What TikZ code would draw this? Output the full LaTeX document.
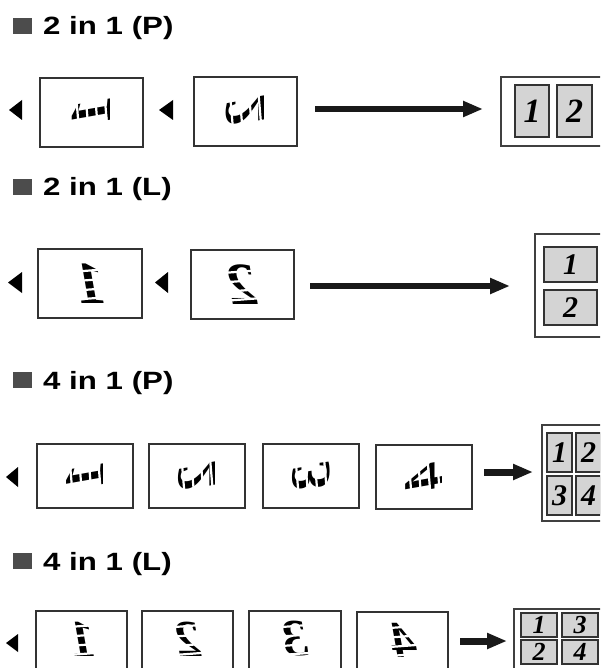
\documentclass[tikz,border=0pt]{standalone}
\usepackage{fontspec}
\setmainfont{Liberation Sans}
\newfontfamily\serifnum{Liberation Serif}
\usetikzlibrary{arrows.meta,calc}

\tikzset{
  page/.style={draw=black!80, line width=1.3pt, inner sep=0pt, fill=white},
  outframe/.style={draw=black!75, line width=1.2pt, inner sep=0pt, fill=white},
  cell/.style={draw=black!80, line width=1.3pt, fill=black!17, inner sep=0pt},
  celltext/.style={font=\serifnum\bfseries\itshape\fontsize{#1}{#1}\selectfont},
  glyph/.style={inner sep=0pt, font=\serifnum\bfseries\itshape\fontsize{#1}{#1}\selectfont},
  stripe/.style={draw=white, line width=2.2pt},
  bigarrow/.style={draw=black!90, line width=#1, -{Triangle[length=20pt,width=15pt]}},
  marker/.style={fill=black},
  bullet/.style={fill=black!70},
  heading/.style={anchor=base west, inner sep=0pt, font=\bfseries\fontsize{25}{25}\selectfont}
}
\newcommand\vstripes[1]{\foreach \d in {-14,-4.5,5,14.5} {\draw[stripe] ($(#1)+(\d-1.5,-18)$) -- ($(#1)+(\d+1.5,18)$);}}
\newcommand\hstripes[1]{\foreach \d in {-13,-3.5,6,15} {\draw[stripe] ($(#1)+(-20,\d+1.5)$) -- ($(#1)+(20,\d-1.5)$);}}
\newcommand\mirr[1]{\scalebox{-1}[1]{#1}}

\begin{document}
\begin{tikzpicture}[x=1pt,y=-1pt]
\useasboundingbox (0,0) rectangle (600,668);
\clip (0,0) rectangle (600,668);

% ---------- Row 1 : 2 in 1 (P)
\fill[bullet] (13,18) rectangle (32,34);
\node[heading] (h1) at (43,35) {\scalebox{1.25}[1]{2 in 1 (P)}};
\fill[marker] (9,110) -- (22,100) -- (22,120) -- cycle;
\fill[marker] (159,110) -- (173,100) -- (173,120) -- cycle;
\node[page, minimum width=103pt, minimum height=69pt] (p1a) at (91.5,112.5) {};
\node[page, minimum width=103pt, minimum height=69pt] (p1b) at (245.5,111.5) {};
\node[glyph=58, rotate=90] (g1a) at (p1a) {\mirr{1}};
\node[glyph=58, rotate=90] (g1b) at (p1b) {\mirr{2}};
\vstripes{g1a}
\vstripes{g1b}
\coordinate (a1s) at (315,109);
\coordinate (a1e) at (483,109);
\draw[bigarrow=6pt] (a1s) -- (a1e);
\node[outframe, minimum width=106pt, minimum height=69pt] (o1) at (554,111.5) {};
\node[cell, minimum width=34pt, minimum height=52pt, celltext=34] (c1a) at (532,111) {1};
\node[cell, minimum width=35pt, minimum height=52pt, celltext=34] (c1b) at (574.5,111) {2};

% ---------- Row 2 : 2 in 1 (L)
\fill[bullet] (13,179) rectangle (32,195);
\node[heading] (h2) at (43,196) {\scalebox{1.25}[1]{2 in 1 (L)}};
\fill[marker] (8,282.5) -- (22,272) -- (22,293) -- cycle;
\fill[marker] (155,282.5) -- (168,272) -- (168,293) -- cycle;
\node[page, minimum width=104pt, minimum height=69pt] (p2a) at (90,283.5) {};
\node[page, minimum width=103pt, minimum height=69pt] (p2b) at (242.5,284.5) {};
\node[glyph=60] (g2a) at (p2a) {\mirr{1}};
\node[glyph=60] (g2b) at (p2b) {\mirr{2}};
\hstripes{g2a}
\hstripes{g2b}
\coordinate (a2s) at (310,286);
\coordinate (a2e) at (510,286);
\draw[bigarrow=6pt] (a2s) -- (a2e);
\node[outframe, minimum width=71pt, minimum height=103pt] (o2) at (570.5,285.5) {};
\node[cell, minimum width=53pt, minimum height=35pt, celltext=30] (c2a) at (570.5,264.5) {1};
\node[cell, minimum width=53pt, minimum height=35pt, celltext=30] (c2b) at (570.5,307.5) {2};

% ---------- Row 3 : 4 in 1 (P)
\fill[bullet] (13,372) rectangle (32,388);
\node[heading] (h3) at (43,389) {\scalebox{1.25}[1]{4 in 1 (P)}};
\fill[marker] (6,477) -- (18,467) -- (18,487) -- cycle;
\node[page, minimum width=96pt, minimum height=64pt] (p3a) at (85,476) {};
\node[page, minimum width=96pt, minimum height=64pt] (p3b) at (197,476) {};
\node[page, minimum width=96pt, minimum height=64pt] (p3c) at (311,476) {};
\node[page, minimum width=96pt, minimum height=64pt] (p3d) at (424,477) {};
\node[glyph=56, rotate=90] (g3a) at (p3a) {\mirr{1}};
\node[glyph=56, rotate=90] (g3b) at (p3b) {\mirr{2}};
\node[glyph=56, rotate=90] (g3c) at (p3c) {\mirr{3}};
\node[glyph=56, rotate=90] (g3d) at (p3d) {\mirr{4}};
\vstripes{g3a}
\vstripes{g3b}
\vstripes{g3c}
\vstripes{g3d}
\coordinate (a3s) at (484,472);
\coordinate (a3e) at (533,472);
\draw[bigarrow=7pt] (a3s) -- (a3e);
\node[outframe, minimum width=64pt, minimum height=96pt] (o3) at (574,473) {};
\node[cell, minimum width=25pt, minimum height=39pt, celltext=30] (c3a) at (559.5,452.5) {1};
\node[cell, minimum width=25pt, minimum height=39pt, celltext=30] (c3b) at (588.5,452.5) {2};
\node[cell, minimum width=25pt, minimum height=39pt, celltext=30] (c3c) at (559.5,495.5) {3};
\node[cell, minimum width=25pt, minimum height=39pt, celltext=30] (c3d) at (588.5,495.5) {4};

% ---------- Row 4 : 4 in 1 (L)
\fill[bullet] (13,553) rectangle (32,569);
\node[heading] (h4) at (43,570) {\scalebox{1.25}[1]{4 in 1 (L)}};
\fill[marker] (6,643) -- (18,634) -- (18,652) -- cycle;
\node[page, minimum width=91pt, minimum height=64pt] (p4a) at (81.5,643) {};
\node[page, minimum width=91pt, minimum height=64pt] (p4b) at (187.5,643) {};
\node[page, minimum width=92pt, minimum height=64pt] (p4c) at (295,643) {};
\node[page, minimum width=91pt, minimum height=64pt] (p4d) at (402.5,644) {};
\node[glyph=52] (g4a) at (82,639) {\mirr{1}};
\node[glyph=52] (g4b) at (188,639) {\mirr{2}};
\node[glyph=52] (g4c) at (295,639) {\mirr{3}};
\node[glyph=52] (g4d) at (403,640) {\mirr{4}};
\hstripes{g4a}
\hstripes{g4b}
\hstripes{g4c}
\hstripes{g4d}
\coordinate (a4s) at (460,641);
\coordinate (a4e) at (507,641);
\draw[bigarrow=7pt] (a4s) -- (a4e);
\node[outframe, minimum width=91pt, minimum height=64pt] (o4) at (559.5,641) {};
\node[cell, minimum width=36pt, minimum height=24pt, celltext=26] (c4a) at (539,625) {1};
\node[cell, minimum width=36pt, minimum height=24pt, celltext=26] (c4b) at (580,625) {3};
\node[cell, minimum width=36pt, minimum height=24pt, celltext=26] (c4c) at (539,652) {2};
\node[cell, minimum width=36pt, minimum height=24pt, celltext=26] (c4d) at (580,652) {4};
\end{tikzpicture}
\end{document}
